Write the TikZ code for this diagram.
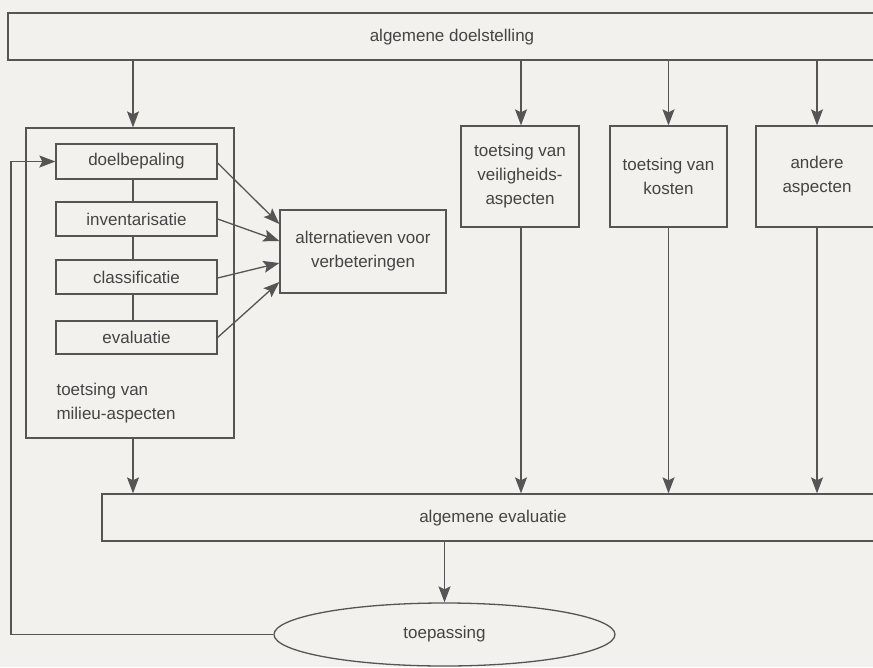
\documentclass[tikz,border=0pt]{standalone}
\usepackage{fontspec}
\setmainfont{Liberation Sans}
\usetikzlibrary{arrows.meta,shapes.geometric,calc}
\definecolor{paper}{HTML}{F3F1ED}
\definecolor{ink}{HTML}{555555}
\definecolor{txt}{HTML}{444444}
\begin{document}
\begin{tikzpicture}[x=1pt,y=-1pt,
  font=\fontsize{17}{24}\selectfont,
  every node/.style={text=txt},
  line/.style={draw=ink,line width=1.3pt},
  arr/.style={line,-{Stealth[length=16pt,width=12pt,inset=3pt,fill=ink]}},
  box/.style={line,rectangle,inner sep=0pt,align=center},
]
\useasboundingbox (0,0) rectangle (873,667);
\fill[paper] (0,0) rectangle (873,667);
\clip (0,0) rectangle (873,667);

% overall goal and overall evaluation (both run past the right edge)
\node[box,minimum width=872pt,minimum height=47pt] (goal) at (444,36.5) {};
\node at (452,37) {algemene doelstelling};
\node[box,minimum width=778pt,minimum height=47pt] (evalall) at (491,517.5) {};
\node at (493,518) {algemene evaluatie};

% environmental assessment with its four steps
\node[box,minimum width=208pt,minimum height=310pt] (outer) at (130,283) {};
\node[box,minimum width=161pt,minimum height=35pt] (doel)  at (136.5,161.5) {doelbepaling};
\node[box,minimum width=161pt,minimum height=34pt] (inv)   at (136.5,219)   {inventarisatie};
\node[box,minimum width=161pt,minimum height=34pt] (class) at (136.5,277)   {classificatie};
\node[box,minimum width=161pt,minimum height=33pt] (evl)   at (136.5,337.5) {evaluatie};
\node[anchor=west,align=left] (milieu) at (53,403.5) {toetsing van\\milieu-aspecten};
\draw[line] (doel.south -| 133,0) -- (inv.north -| 133,0);
\draw[line] (inv.south -| 133,0) -- (class.north -| 133,0);
\draw[line] (class.south -| 133,0) -- (evl.north -| 133,0);

% alternatives
\node[box,minimum width=166pt,minimum height=83pt] (alt) at (363,251.5) {alternatieven voor\\verbeteringen};
\draw[arr] ([yshift=-1.5pt]doel.east) -- ([yshift=27.5pt]alt.west);
\draw[arr] (inv.east) -- ([yshift=10.5pt]alt.west);
\draw[arr] ([yshift=-1pt]class.east) -- ([yshift=-11.5pt]alt.west);
\draw[arr] (evl.east) -- ([yshift=-30.5pt]alt.west);

% other assessments
\node[box,minimum width=118pt,minimum height=101pt] (veil) at (520,176.5) {toetsing van\\veiligheids-\\aspecten};
\node[box,minimum width=117pt,minimum height=101pt] (kost) at (668.5,176.5) {toetsing van\\kosten};
\node[box,minimum width=122pt,minimum height=101pt] (ander) at (817,176.5) {andere\\aspecten};

% goal feeds every assessment
\draw[arr] ([xshift=3pt]outer.north |- goal.south) -- ([xshift=3pt]outer.north);
\draw[arr] ([xshift=1pt]veil.north |- goal.south) -- ([xshift=1pt]veil.north);
\draw[arr] (kost.north |- goal.south) -- (kost.north);
\draw[arr] (ander.north |- goal.south) -- (ander.north);

% assessments feed the overall evaluation
\draw[arr] ([xshift=3pt]outer.south) -- ([xshift=3pt]outer.south |- evalall.north);
\draw[arr] ([xshift=1pt]veil.south) -- ([xshift=1pt]veil.south |- evalall.north);
\draw[arr] (kost.south) -- (kost.south |- evalall.north);
\draw[arr] (ander.south) -- (ander.south |- evalall.north);

% application and feedback loop
\node[line,ellipse,inner sep=0pt,minimum width=341pt,minimum height=63pt] (toep) at (444.5,634.5) {toepassing};
\draw[arr] (toep.north |- evalall.south) -- (toep.north);
\coordinate (fb) at (11,634.5);
\draw[arr] (toep.west) -- (fb) -- (fb |- doel.west) -- (doel.west);
\end{tikzpicture}
\end{document}
